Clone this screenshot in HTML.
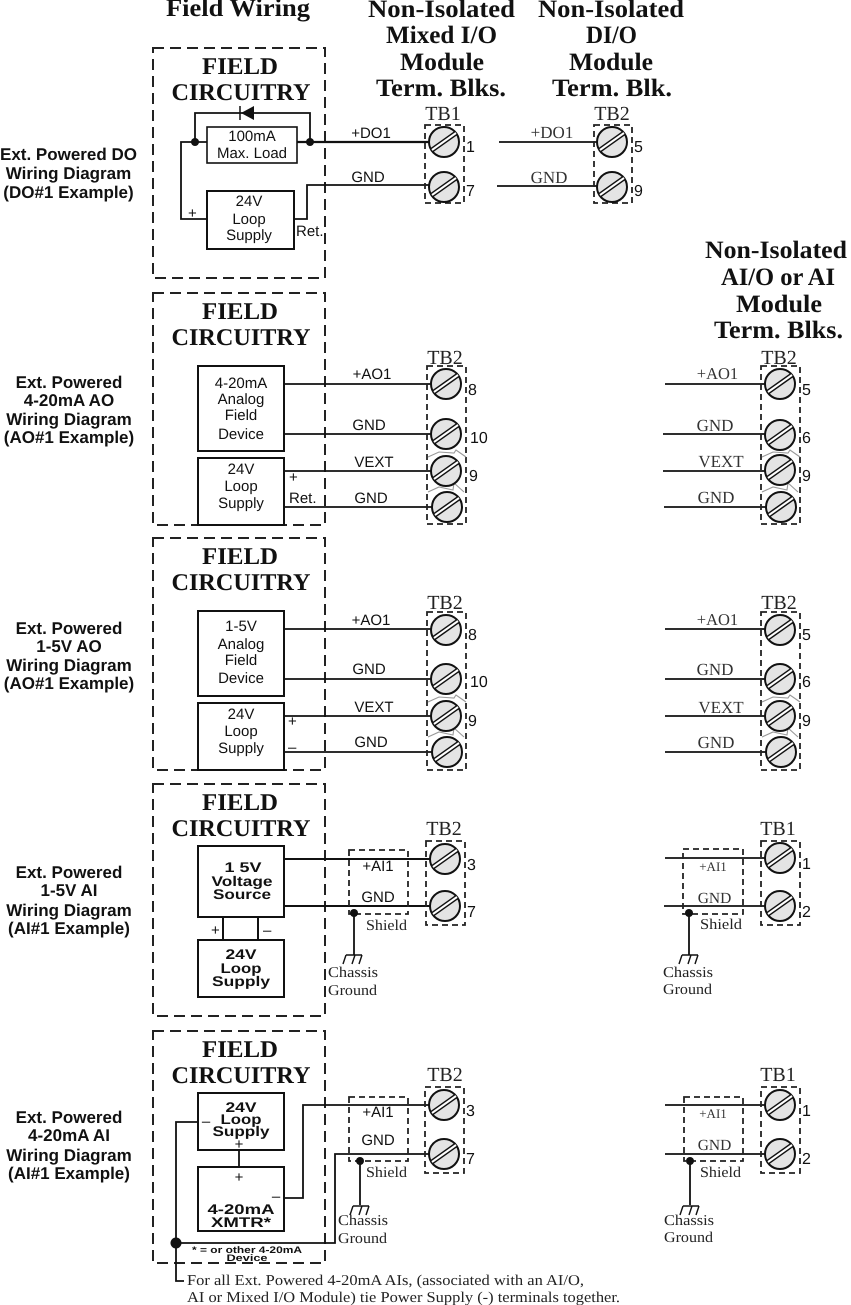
<!DOCTYPE html>
<html><head><meta charset="utf-8"><style>
html,body{margin:0;padding:0;background:#fff}
svg{display:block}
text{text-rendering:geometricPrecision}
.h{font:bold 25px "Liberation Serif",serif;text-anchor:middle;fill:#111}
.f{font:bold 24px "Liberation Serif",serif;text-anchor:middle;fill:#111}
.tb{font:20px "Liberation Serif",serif;text-anchor:middle;fill:#222}
.l{font:bold 17px "Liberation Sans",sans-serif;text-anchor:middle;fill:#111}
.s{font:15px "Liberation Sans",sans-serif;text-anchor:middle;fill:#111}
.sl{font:15px "Liberation Sans",sans-serif;fill:#111}
.b{font:bold 14px "Liberation Sans",sans-serif;text-anchor:middle;fill:#111}
.n{font:16px "Liberation Sans",sans-serif;fill:#111}
.r{font:17px "Liberation Serif",serif;text-anchor:middle;fill:#333}
.t{font:15px "Liberation Serif",serif;fill:#222}
.w{stroke:#111;stroke-width:1.8;fill:none}
.bx{stroke:#111;stroke-width:2;fill:#fff}
.d{stroke:#222;stroke-width:2;fill:none;stroke-dasharray:11 6}
.d2{stroke:#222;stroke-width:1.8;fill:none;stroke-dasharray:6 4}
.g{stroke:#999;stroke-width:1.1;fill:none}
</style></head><body>
<svg xmlns="http://www.w3.org/2000/svg" width="851" height="1305" viewBox="0 0 851 1305">
<defs>
<g id="sc"><circle r="15" fill="#e4e4e4" stroke="#111" stroke-width="2"/><line x1="-12" y1="8" x2="12" y2="-9" stroke="#111" stroke-width="5"/><line x1="-12" y1="8" x2="12" y2="-9" stroke="#fff" stroke-width="2"/></g>
<g id="gr"><path d="M-7 0H9M-7 0L-10 9M2 0L-1 9M9 0L6 9" stroke="#111" stroke-width="1.4" fill="none"/></g>
</defs>

<!-- headers -->
<text class="h" x="238" y="16" textLength="144" lengthAdjust="spacingAndGlyphs">Field Wiring</text>
<text class="h" x="441.5" y="17" textLength="147" lengthAdjust="spacingAndGlyphs">Non-Isolated</text><text class="h" x="441.5" y="43" textLength="111" lengthAdjust="spacingAndGlyphs">Mixed I/O</text><text class="h" x="442" y="70" textLength="84" lengthAdjust="spacingAndGlyphs">Module</text><text class="h" x="441" y="96" textLength="130" lengthAdjust="spacingAndGlyphs">Term. Blks.</text>
<text class="h" x="611" y="17" textLength="146" lengthAdjust="spacingAndGlyphs">Non-Isolated</text><text class="h" x="611.5" y="43" textLength="51" lengthAdjust="spacingAndGlyphs">DI/O</text><text class="h" x="611" y="70" textLength="84" lengthAdjust="spacingAndGlyphs">Module</text><text class="h" x="612" y="96" textLength="120" lengthAdjust="spacingAndGlyphs">Term. Blk.</text>
<text class="h" x="776" y="258" textLength="142" lengthAdjust="spacingAndGlyphs">Non-Isolated</text><text class="h" x="778" y="285" textLength="114" lengthAdjust="spacingAndGlyphs">AI/O or AI</text><text class="h" x="779" y="312" textLength="86" lengthAdjust="spacingAndGlyphs">Module</text><text class="h" x="778.5" y="338" textLength="129" lengthAdjust="spacingAndGlyphs">Term. Blks.</text>

<!-- left labels -->
<text class="l" x="68.5" y="160">Ext. Powered DO</text><text class="l" x="68.5" y="179">Wiring Diagram</text><text class="l" x="68.5" y="198">(DO#1 Example)</text>
<text class="l" x="69" y="388">Ext. Powered</text><text class="l" x="69" y="406">4-20mA AO</text><text class="l" x="69" y="425">Wiring Diagram</text><text class="l" x="69" y="443">(AO#1 Example)</text>
<text class="l" x="69" y="634">Ext. Powered</text><text class="l" x="69" y="652">1-5V AO</text><text class="l" x="69" y="671">Wiring Diagram</text><text class="l" x="69" y="689">(AO#1 Example)</text>
<text class="l" x="69" y="878">Ext. Powered</text><text class="l" x="69" y="896">1-5V AI</text><text class="l" x="69" y="916">Wiring Diagram</text><text class="l" x="69" y="934">(AI#1 Example)</text>
<text class="l" x="69" y="1123">Ext. Powered</text><text class="l" x="69" y="1141">4-20mA AI</text><text class="l" x="69" y="1161">Wiring Diagram</text><text class="l" x="69" y="1179">(AI#1 Example)</text>

<!-- field boxes -->
<rect class="d" x="153" y="48" width="172" height="230"/>
<rect class="d" x="153" y="293" width="172" height="232"/>
<rect class="d" x="153" y="538" width="172" height="232"/>
<rect class="d" x="153" y="784" width="172" height="232"/>
<rect class="d" x="153" y="1031" width="172" height="232"/>
<text class="f" x="240" y="74" textLength="76" lengthAdjust="spacingAndGlyphs">FIELD</text><text class="f" x="241" y="100" textLength="139" lengthAdjust="spacingAndGlyphs">CIRCUITRY</text>
<text class="f" x="240" y="319" textLength="76" lengthAdjust="spacingAndGlyphs">FIELD</text><text class="f" x="241" y="345" textLength="139" lengthAdjust="spacingAndGlyphs">CIRCUITRY</text>
<text class="f" x="240" y="564" textLength="76" lengthAdjust="spacingAndGlyphs">FIELD</text><text class="f" x="241" y="590" textLength="139" lengthAdjust="spacingAndGlyphs">CIRCUITRY</text>
<text class="f" x="240" y="810" textLength="76" lengthAdjust="spacingAndGlyphs">FIELD</text><text class="f" x="241" y="836" textLength="139" lengthAdjust="spacingAndGlyphs">CIRCUITRY</text>
<text class="f" x="240" y="1057" textLength="76" lengthAdjust="spacingAndGlyphs">FIELD</text><text class="f" x="241" y="1083" textLength="139" lengthAdjust="spacingAndGlyphs">CIRCUITRY</text>

<!-- ROW 1 -->
<path class="w" d="M195 142V113H310V142"/>
<path d="M240 106V120" stroke="#111" stroke-width="1.5"/><path d="M241 113L254 106V120Z" fill="#111"/>
<path class="w" d="M207 142H181V219H207"/>
<path class="w" d="M297 142H430" style="stroke-width:2.2"/>
<path class="w" d="M294 219H307V185H430"/>
<circle cx="195" cy="142" r="4" fill="#111"/><circle cx="310" cy="142" r="4" fill="#111"/>
<rect class="bx" x="207" y="127" width="90" height="36" style="stroke-width:1.6"/>
<text class="s" x="252" y="141">100mA</text><text class="s" x="252" y="158">Max. Load</text>
<rect class="bx" x="207" y="191" width="87" height="58"/>
<text class="s" x="249" y="206">24V</text><text class="s" x="249" y="224">Loop</text><text class="s" x="249" y="240">Supply</text>
<text class="sl" x="188" y="218">+</text><text class="sl" x="296" y="236">Ret.</text>
<text class="s" x="371" y="138">+DO1</text><text class="s" x="368" y="182">GND</text>
<text class="tb" x="443" y="120">TB1</text>
<rect class="d2" x="425" y="125" width="39" height="78"/>
<use href="#sc" x="444" y="142"/><use href="#sc" x="444" y="187"/>
<text class="n" x="466" y="152">1</text><text class="n" x="466" y="196">7</text>
<path class="w" d="M499 142H597M497 186H597"/>
<text class="r" x="552" y="138">+DO1</text><text class="r" x="549" y="183">GND</text>
<text class="tb" x="612" y="120">TB2</text>
<rect class="d2" x="594" y="125" width="38" height="78"/>
<use href="#sc" x="612" y="142"/><use href="#sc" x="612" y="187"/>
<text class="n" x="634" y="152">5</text><text class="n" x="634" y="196">9</text>

<!-- ROW 2 -->
<path class="w" d="M284 384H432M284 434H432M284 471H432M284 507H432"/>
<rect class="bx" x="198" y="366" width="86" height="85"/>
<rect class="bx" x="198" y="458" width="86" height="67"/>
<text class="s" x="241" y="388">4-20mA</text><text class="s" x="241" y="404">Analog</text><text class="s" x="241" y="420">Field</text><text class="s" x="241" y="439">Device</text>
<text class="s" x="241" y="474">24V</text><text class="s" x="241" y="491">Loop</text><text class="s" x="241" y="508">Supply</text>
<text class="sl" x="289" y="482">+</text><text class="sl" x="289" y="503">Ret.</text>
<text class="s" x="372" y="379">+AO1</text><text class="s" x="369" y="430">GND</text><text class="s" x="374" y="467">VEXT</text><text class="s" x="371" y="503">GND</text>
<text class="tb" x="445" y="364">TB2</text>
<rect class="d2" x="427" y="366" width="39" height="158"/>
<path class="g" d="M428 457L439 452L454 453L456 450L466 457M428 492L439 487L453 490L454 483L464 492"/>
<use href="#sc" x="446" y="384"/><use href="#sc" x="446" y="434"/><use href="#sc" x="446" y="471"/><use href="#sc" x="447" y="507"/>
<text class="n" x="468" y="395">8</text><text class="n" x="470" y="443">10</text><text class="n" x="469" y="481">9</text>
<!-- right -->
<path class="w" d="M665 384H766M663 434H766M663 471H766M664 507H766"/>
<text class="r" x="717.5" y="379" style="font-size:16.5px">+AO1</text><text class="r" x="715" y="431">GND</text><text class="r" x="721" y="467">VEXT</text><text class="r" x="716" y="503">GND</text>
<text class="tb" x="779" y="364">TB2</text>
<rect class="d2" x="761" y="366" width="39" height="158"/>
<path class="g" d="M762 457L773 452L788 453L790 450L800 457M762 492L773 487L787 490L788 483L798 492"/>
<use href="#sc" x="780" y="384"/><use href="#sc" x="780" y="435"/><use href="#sc" x="780" y="470"/><use href="#sc" x="781" y="507"/>
<text class="n" x="802" y="395">5</text><text class="n" x="802" y="443">6</text><text class="n" x="802" y="481">9</text>

<!-- ROW 3 -->
<path class="w" d="M284 629H432M284 679H432M284 716H432M284 752H432"/>
<rect class="bx" x="198" y="611" width="86" height="85"/>
<rect class="bx" x="198" y="703" width="86" height="67"/>
<text class="s" x="241" y="631">1-5V</text><text class="s" x="241" y="649">Analog</text><text class="s" x="241" y="665">Field</text><text class="s" x="241" y="683">Device</text>
<text class="s" x="241" y="719">24V</text><text class="s" x="241" y="736">Loop</text><text class="s" x="241" y="753">Supply</text>
<text class="sl" x="288" y="726">+</text><text class="sl" x="288" y="752">–</text>
<text class="s" x="371" y="625">+AO1</text><text class="s" x="369" y="674">GND</text><text class="s" x="374" y="712">VEXT</text><text class="s" x="371" y="747">GND</text>
<text class="tb" x="445" y="609">TB2</text>
<rect class="d2" x="427" y="612" width="39" height="158"/>
<path class="g" d="M428 702L439 697L454 698L456 695L466 702M428 737L439 732L453 735L454 728L464 737"/>
<use href="#sc" x="446" y="630"/><use href="#sc" x="446" y="679"/><use href="#sc" x="446" y="716"/><use href="#sc" x="447" y="752"/>
<text class="n" x="468" y="640">8</text><text class="n" x="470" y="687">10</text><text class="n" x="468" y="726">9</text>
<path class="w" d="M665 629H766M665 679H766M665 716H766M665 752H766"/>
<text class="r" x="717.5" y="625" style="font-size:16.5px">+AO1</text><text class="r" x="715" y="675">GND</text><text class="r" x="721" y="713">VEXT</text><text class="r" x="716" y="748">GND</text>
<text class="tb" x="779" y="609">TB2</text>
<rect class="d2" x="761" y="612" width="39" height="158"/>
<path class="g" d="M762 702L773 697L788 698L790 695L800 702M762 737L773 732L787 735L788 728L798 737"/>
<use href="#sc" x="780" y="630"/><use href="#sc" x="780" y="679"/><use href="#sc" x="780" y="716"/><use href="#sc" x="781" y="752"/>
<text class="n" x="802" y="640">5</text><text class="n" x="802" y="687">6</text><text class="n" x="802" y="726">9</text>

<!-- ROW 4 -->
<path class="w" d="M284 859H432M284 906H432M223 917V940M258 917V940" style="stroke-width:2"/>
<rect class="bx" x="198" y="846" width="86" height="71"/>
<rect class="bx" x="198" y="940" width="86" height="57"/>
<text class="b" x="243" y="872" textLength="37" lengthAdjust="spacingAndGlyphs">1 5V</text><text class="b" x="242" y="886" textLength="61" lengthAdjust="spacingAndGlyphs">Voltage</text><text class="b" x="242" y="899" textLength="58" lengthAdjust="spacingAndGlyphs">Source</text>
<text class="b" x="241" y="959" textLength="31" lengthAdjust="spacingAndGlyphs">24V</text><text class="b" x="241" y="973" textLength="41" lengthAdjust="spacingAndGlyphs">Loop</text><text class="b" x="241" y="986" textLength="58" lengthAdjust="spacingAndGlyphs">Supply</text>
<text class="sl" x="211" y="935">+</text><text class="sl" x="263" y="935">–</text>
<rect class="d2" x="349" y="850" width="59" height="64"/>
<text class="s" x="378" y="871">+AI1</text><text class="s" x="378" y="902">GND</text>
<circle cx="354" cy="913" r="4" fill="#111"/><path class="w" d="M354 913V955"/><use href="#gr" x="353" y="955"/>
<text class="t" x="366" y="930" textLength="41" lengthAdjust="spacingAndGlyphs">Shield</text><text class="t" x="328" y="977" textLength="50" lengthAdjust="spacingAndGlyphs">Chassis</text><text class="t" x="328" y="995" textLength="49" lengthAdjust="spacingAndGlyphs">Ground</text>
<text class="tb" x="444" y="835">TB2</text>
<rect class="d2" x="426" y="841" width="39" height="84"/>
<use href="#sc" x="445" y="859"/><use href="#sc" x="445" y="906"/>
<text class="n" x="467" y="870">3</text><text class="n" x="467" y="917">7</text>
<path class="w" d="M665 858H766M664 906H766"/>
<rect class="d2" x="683" y="849" width="60" height="65"/>
<text class="r" x="713" y="871" style="font-size:13px">+AI1</text><text class="r" x="714.5" y="903" style="font-size:15.5px">GND</text>
<circle cx="689" cy="913" r="4" fill="#111"/><path class="w" d="M689 913V955"/><use href="#gr" x="689" y="955"/>
<text class="t" x="700" y="929" textLength="42" lengthAdjust="spacingAndGlyphs">Shield</text><text class="t" x="663" y="977" textLength="50" lengthAdjust="spacingAndGlyphs">Chassis</text><text class="t" x="663" y="994" textLength="49" lengthAdjust="spacingAndGlyphs">Ground</text>
<text class="tb" x="778" y="835">TB1</text>
<rect class="d2" x="761" y="841" width="39" height="84"/>
<use href="#sc" x="780" y="858"/><use href="#sc" x="780" y="906"/>
<text class="n" x="802" y="869">1</text><text class="n" x="802" y="917">2</text>

<!-- ROW 5 -->
<path class="w" d="M198 1122H176V1281H184M239 1150V1167M284 1198H303V1105H432M176 1243H335V1154H432"/>
<circle cx="176" cy="1243" r="5.5" fill="#111"/>
<rect class="bx" x="198" y="1093" width="86" height="57"/>
<rect class="bx" x="198" y="1167" width="86" height="64"/>
<text class="b" x="241" y="1112" textLength="31" lengthAdjust="spacingAndGlyphs">24V</text><text class="b" x="241" y="1124" textLength="41" lengthAdjust="spacingAndGlyphs">Loop</text><text class="b" x="241" y="1136" textLength="57" lengthAdjust="spacingAndGlyphs">Supply</text>
<text class="s" x="239" y="1149">+</text><text class="s" x="239" y="1182">+</text><text class="s" x="276" y="1201">–</text><text class="s" x="206" y="1126">–</text>
<text class="b" x="241" y="1214" textLength="67" lengthAdjust="spacingAndGlyphs">4-20mA</text><text class="b" x="241" y="1227" textLength="60" lengthAdjust="spacingAndGlyphs">XMTR*</text>
<text x="247" y="1253" textLength="110" lengthAdjust="spacingAndGlyphs" style="font:bold 9.5px 'Liberation Sans',sans-serif;text-anchor:middle;fill:#111">* = or other 4-20mA</text>
<text x="247" y="1261" textLength="41" lengthAdjust="spacingAndGlyphs" style="font:bold 9.5px 'Liberation Sans',sans-serif;text-anchor:middle;fill:#111">Device</text>
<rect class="d2" x="349" y="1097" width="59" height="64"/>
<text class="s" x="378" y="1117">+AI1</text><text class="s" x="378" y="1145">GND</text>
<circle cx="360" cy="1161" r="4" fill="#111"/><path class="w" d="M360 1161V1205"/><use href="#gr" x="360" y="1206"/>
<text class="t" x="366" y="1177" textLength="41" lengthAdjust="spacingAndGlyphs">Shield</text><text class="t" x="338" y="1225" textLength="50" lengthAdjust="spacingAndGlyphs">Chassis</text><text class="t" x="338" y="1243" textLength="49" lengthAdjust="spacingAndGlyphs">Ground</text>
<text class="tb" x="445" y="1081">TB2</text>
<rect class="d2" x="425" y="1087" width="39" height="86"/>
<use href="#sc" x="444" y="1105"/><use href="#sc" x="444" y="1154"/>
<text class="n" x="466" y="1116">3</text><text class="n" x="466" y="1164">7</text>
<text class="t" x="187" y="1285" textLength="397" lengthAdjust="spacingAndGlyphs">For all Ext. Powered 4-20mA AIs, (associated with an AI/O,</text>
<text class="t" x="187" y="1302" textLength="433" lengthAdjust="spacingAndGlyphs">AI or Mixed I/O Module) tie Power Supply (-) terminals together.</text>
<path class="w" d="M665 1105H766M665 1154H766"/>
<rect class="d2" x="684" y="1097" width="59" height="64"/>
<text class="r" x="713" y="1118" style="font-size:13px">+AI1</text><text class="r" x="714.5" y="1150" style="font-size:15.5px">GND</text>
<circle cx="690" cy="1161" r="4" fill="#111"/><path class="w" d="M690 1161V1205"/><use href="#gr" x="690" y="1206"/>
<text class="t" x="700" y="1177" textLength="41" lengthAdjust="spacingAndGlyphs">Shield</text><text class="t" x="664" y="1225" textLength="50" lengthAdjust="spacingAndGlyphs">Chassis</text><text class="t" x="664" y="1242" textLength="49" lengthAdjust="spacingAndGlyphs">Ground</text>
<text class="tb" x="778" y="1081">TB1</text>
<rect class="d2" x="761" y="1087" width="39" height="86"/>
<use href="#sc" x="780" y="1105"/><use href="#sc" x="780" y="1154"/>
<text class="n" x="802" y="1116">1</text><text class="n" x="802" y="1164">2</text>
</svg>
</body></html>
